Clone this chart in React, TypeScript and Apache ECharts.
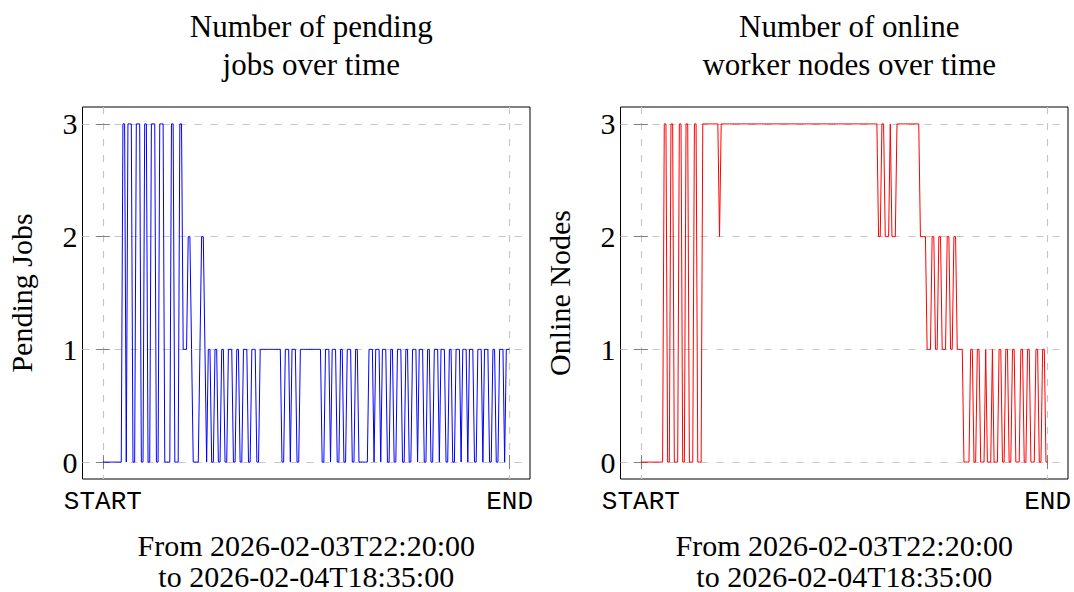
import React, { useEffect, useRef } from "react";
import * as echarts from "echarts";

// Samples every 5 minutes from 2026-02-03T22:20:00 to 2026-02-04T18:35:00
const pendingJobs = [
  0, 0, 0, 0, 0, 0, 0, 0, 0, 0,
  0, 0, 3, 3, 0, 3, 3, 3, 0, 0,
  3, 3, 3, 0, 0, 3, 3, 0, 0, 3,
  3, 3, 0, 0, 3, 3, 3, 0, 0, 0,
  0, 3, 3, 0, 0, 0, 3, 3, 1, 1,
  1, 2, 2, 1, 0, 0, 0, 0, 1, 2,
  2, 1, 0, 1, 1, 0, 0, 1, 1, 0,
  0, 1, 1, 0, 0, 1, 1, 1, 0, 0,
  1, 1, 0, 0, 1, 1, 1, 0, 0, 1,
  1, 1, 0, 0, 1, 1, 1, 1, 1, 1,
  1, 1, 1, 1, 1, 1, 1, 0, 0, 1,
  1, 1, 0, 1, 1, 1, 0, 0, 1, 1,
  1, 1, 1, 1, 1, 1, 1, 1, 1, 1,
  1, 0, 0, 1, 1, 1, 0, 1, 1, 1,
  0, 0, 1, 1, 0, 0, 1, 1, 1, 0,
  0, 1, 1, 0, 0, 0, 0, 0, 0, 1,
  1, 1, 0, 1, 1, 1, 0, 1, 1, 1,
  0, 0, 1, 1, 0, 0, 1, 1, 1, 0,
  0, 1, 1, 0, 0, 1, 1, 1, 0, 1,
  1, 1, 0, 0, 1, 1, 0, 0, 1, 1,
  1, 0, 1, 1, 1, 0, 0, 1, 1, 0,
  0, 1, 1, 1, 0, 1, 1, 1, 0, 1,
  1, 1, 0, 0, 1, 1, 1, 0, 1, 1,
  1, 0, 0, 1, 1, 0, 0, 1, 1, 1,
  0, 1, 1, 1,
];

const onlineNodes = [
  0, 0, 0, 0, 0, 0, 0, 0, 0, 0,
  0, 0, 0, 0, 3, 3, 0, 0, 3, 3,
  0, 0, 0, 3, 3, 0, 0, 3, 3, 0,
  0, 0, 3, 3, 0, 0, 0, 3, 3, 3,
  3, 3, 3, 3, 3, 3, 3, 2, 3, 3,
  3, 3, 3, 3, 3, 3, 3, 3, 3, 3,
  3, 3, 3, 3, 3, 3, 3, 3, 3, 3,
  3, 3, 3, 3, 3, 3, 3, 3, 3, 3,
  3, 3, 3, 3, 3, 3, 3, 3, 3, 3,
  3, 3, 3, 3, 3, 3, 3, 3, 3, 3,
  3, 3, 3, 3, 3, 3, 3, 3, 3, 3,
  3, 3, 3, 3, 3, 3, 3, 3, 3, 3,
  3, 3, 3, 3, 3, 3, 3, 3, 3, 3,
  3, 3, 3, 3, 3, 3, 3, 3, 3, 3,
  3, 3, 2, 2, 3, 3, 2, 2, 2, 3,
  2, 2, 2, 3, 3, 3, 3, 3, 3, 3,
  3, 3, 3, 3, 3, 3, 3, 2, 2, 2,
  2, 1, 1, 1, 2, 2, 1, 1, 2, 2,
  1, 1, 1, 2, 2, 1, 1, 2, 2, 1,
  1, 1, 1, 0, 0, 0, 0, 1, 1, 0,
  0, 1, 1, 0, 0, 0, 1, 0, 0, 0,
  1, 0, 0, 0, 1, 1, 0, 0, 1, 1,
  0, 0, 1, 1, 0, 0, 0, 1, 1, 0,
  0, 1, 1, 0, 0, 0, 1, 1, 0, 0,
  1, 1, 0, 0,
];

const xTickLabels = ["START", "END"];
const yTickValues = [0, 1, 2, 3];
const leftTitle = "Number of pending\njobs over time";
const rightTitle = "Number of online\nworker nodes over time";
const leftYName = "Pending Jobs";
const rightYName = "Online Nodes";
const rangeText = "From 2026-02-03T22:20:00\nto 2026-02-04T18:35:00";

const SERIF = '"Liberation Serif", "Times New Roman", serif';
const MONO = '"Liberation Mono", "DejaVu Sans Mono", monospace';
const FONT_SIZE = 30;

const lastIdx = pendingJobs.length - 1;
const xPad = lastIdx * 0.05;
const yMin = -0.15;
const yMax = 3.15;
const xTickValues = [0, lastIdx];

const grids = [
  { left: 82.5, top: 107, width: 447.5, height: 372 },
  { left: 620.5, top: 107, width: 447.5, height: 372 },
];

const tickStyle = { color: "#808080", width: 1 };
const gridLineStyle = { color: "#c6c6c6", width: 1.2, type: [7, 9] as any };

function xAxesFor(gridIndex: number) {
  return [
    {
      type: "value",
      gridIndex,
      min: -xPad,
      max: lastIdx + xPad,
      position: "bottom",
      axisLine: { show: false },
      axisTick: { show: true, inside: true, length: 7, customValues: xTickValues, lineStyle: tickStyle },
      axisLabel: {
        show: true,
        customValues: xTickValues,
        margin: 10,
        fontFamily: MONO,
        fontSize: 26,
        color: "#000",
        formatter: (v: number) => (v === 0 ? xTickLabels[0] : xTickLabels[1]),
      },
      splitLine: { show: true, lineStyle: gridLineStyle },
      name: rangeText,
      nameLocation: "middle",
      nameGap: 51,
      nameTextStyle: { fontFamily: SERIF, fontSize: FONT_SIZE, color: "#000", lineHeight: 31 },
    },
    {
      type: "value",
      gridIndex,
      min: -xPad,
      max: lastIdx + xPad,
      position: "top",
      axisLine: { show: false },
      axisTick: { show: true, inside: true, length: 7, customValues: xTickValues, lineStyle: tickStyle },
      axisLabel: { show: false },
      splitLine: { show: false },
    },
  ];
}

function yAxesFor(gridIndex: number, name: string) {
  return [
    {
      type: "value",
      gridIndex,
      min: yMin,
      max: yMax,
      position: "left",
      axisLine: { show: false },
      axisTick: { show: true, inside: true, length: 7, customValues: yTickValues, lineStyle: tickStyle },
      axisLabel: {
        show: true,
        customValues: yTickValues,
        margin: 5,
        fontFamily: SERIF,
        fontSize: FONT_SIZE,
        color: "#000",
      },
      splitLine: { show: true, lineStyle: gridLineStyle },
      name,
      nameLocation: "middle",
      nameGap: 46,
      nameTextStyle: { fontFamily: SERIF, fontSize: FONT_SIZE, color: "#000" },
    },
    {
      type: "value",
      gridIndex,
      min: yMin,
      max: yMax,
      position: "right",
      axisLine: { show: false },
      axisTick: { show: true, inside: true, length: 7, customValues: yTickValues, lineStyle: tickStyle },
      axisLabel: { show: false },
      splitLine: { show: false },
    },
  ];
}

export default function App() {
  const ref = useRef<HTMLDivElement>(null);

  useEffect(() => {
    if (!ref.current) return;
    const chart = echarts.init(ref.current, undefined, { renderer: "svg" });
    const titleStyle = { fontFamily: SERIF, fontSize: 31, fontWeight: "normal", color: "#000", lineHeight: 38 };
    chart.setOption({
      animation: false,
      backgroundColor: "#fff",
      title: [
        { text: leftTitle, left: grids[0].left + grids[0].width / 2, top: 2, textAlign: "center", textStyle: titleStyle },
        { text: rightTitle, left: grids[1].left + grids[1].width / 2, top: 2, textAlign: "center", textStyle: titleStyle },
      ],
      grid: grids.map((g) => ({
        ...g,
        show: true,
        borderColor: "#000",
        borderWidth: 1,
        backgroundColor: "transparent",
        containLabel: false,
        outerBoundsMode: "none",
      })),
      xAxis: [...xAxesFor(0), ...xAxesFor(1)],
      yAxis: [...yAxesFor(0, leftYName), ...yAxesFor(1, rightYName)],
      series: [
        {
          type: "line",
          xAxisIndex: 0,
          yAxisIndex: 0,
          data: pendingJobs.map((v, i) => [i, v]),
          showSymbol: false,
          symbol: "none",
          lineStyle: { color: "#0000ff", width: 1 },
          itemStyle: { color: "#0000ff" },
        },
        {
          type: "line",
          xAxisIndex: 2,
          yAxisIndex: 2,
          data: onlineNodes.map((v, i) => [i, v]),
          showSymbol: false,
          symbol: "none",
          lineStyle: { color: "#ff0000", width: 1 },
          itemStyle: { color: "#ff0000" },
        },
      ],
    });
    return () => chart.dispose();
  }, []);

  return <div ref={ref} style={{ position: "fixed", left: 0, top: 0, width: 1074, height: 592 }} />;
}
